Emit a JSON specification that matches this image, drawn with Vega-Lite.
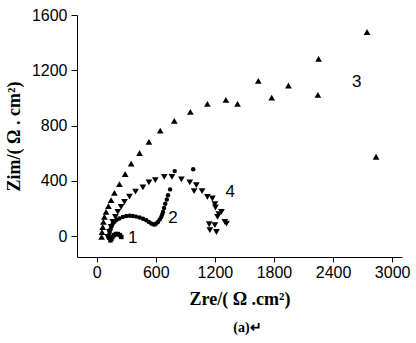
{
  "$schema": "https://vega.github.io/schema/vega-lite/v6.json",
  "width": 325,
  "height": 242,
  "padding": {"left": 5, "top": 7, "right": 5, "bottom": 5},
  "background": "white",
  "title": {"text": "(a)↵", "orient": "bottom", "anchor": "middle", "font": "Liberation Serif", "fontSize": 14, "fontWeight": "bold", "color": "black", "offset": 13, "dx": 8},
  "config": {
    "view": {"stroke": null},
    "axis": {"domainColor": "black", "tickColor": "black", "labelColor": "black", "titleColor": "black", "grid": false, "labelFont": "Liberation Sans", "labelFontSize": 16, "titleFont": "Liberation Serif", "titleFontWeight": "bold", "titleFontSize": 18}
  },
  "datasets": {
    "points": [
      {"s": "1", "x": 140, "y": -30}, {"s": "1", "x": 150, "y": -18}, {"s": "1", "x": 160, "y": -5}, {"s": "1", "x": 175, "y": 8}, {"s": "1", "x": 195, "y": 16}, {"s": "1", "x": 215, "y": 16}, {"s": "1", "x": 235, "y": 8}, {"s": "1", "x": 250, "y": -5},
      {"s": "2", "x": 120, "y": -10}, {"s": "2", "x": 125, "y": 10}, {"s": "2", "x": 132, "y": 30}, {"s": "2", "x": 140, "y": 50}, {"s": "2", "x": 150, "y": 70}, {"s": "2", "x": 163, "y": 90}, {"s": "2", "x": 180, "y": 105}, {"s": "2", "x": 200, "y": 118}, {"s": "2", "x": 230, "y": 128}, {"s": "2", "x": 265, "y": 140}, {"s": "2", "x": 300, "y": 147}, {"s": "2", "x": 335, "y": 148}, {"s": "2", "x": 367, "y": 146}, {"s": "2", "x": 400, "y": 142}, {"s": "2", "x": 435, "y": 136}, {"s": "2", "x": 470, "y": 127}, {"s": "2", "x": 503, "y": 116}, {"s": "2", "x": 530, "y": 104}, {"s": "2", "x": 554, "y": 92}, {"s": "2", "x": 575, "y": 86}, {"s": "2", "x": 590, "y": 85}, {"s": "2", "x": 605, "y": 92}, {"s": "2", "x": 622, "y": 104}, {"s": "2", "x": 640, "y": 122}, {"s": "2", "x": 656, "y": 140}, {"s": "2", "x": 665, "y": 158}, {"s": "2", "x": 673, "y": 176}, {"s": "2", "x": 684, "y": 205}, {"s": "2", "x": 696, "y": 235}, {"s": "2", "x": 712, "y": 266}, {"s": "2", "x": 724, "y": 297}, {"s": "2", "x": 745, "y": 339}, {"s": "2", "x": 792, "y": 471}, {"s": "2", "x": 980, "y": 485},
      {"s": "3", "x": 50, "y": -5}, {"s": "3", "x": 54, "y": 30}, {"s": "3", "x": 61, "y": 67}, {"s": "3", "x": 68, "y": 104}, {"s": "3", "x": 78, "y": 140}, {"s": "3", "x": 95, "y": 176}, {"s": "3", "x": 119, "y": 218}, {"s": "3", "x": 146, "y": 261}, {"s": "3", "x": 180, "y": 314}, {"s": "3", "x": 231, "y": 377}, {"s": "3", "x": 289, "y": 450}, {"s": "3", "x": 350, "y": 525}, {"s": "3", "x": 435, "y": 602}, {"s": "3", "x": 530, "y": 683}, {"s": "3", "x": 645, "y": 764}, {"s": "3", "x": 788, "y": 834}, {"s": "3", "x": 951, "y": 899}, {"s": "3", "x": 1124, "y": 957}, {"s": "3", "x": 1312, "y": 986}, {"s": "3", "x": 1430, "y": 957}, {"s": "3", "x": 1641, "y": 1124}, {"s": "3", "x": 1777, "y": 1003}, {"s": "3", "x": 1947, "y": 1090}, {"s": "3", "x": 2246, "y": 1022}, {"s": "3", "x": 2253, "y": 1283}, {"s": "3", "x": 2745, "y": 1477}, {"s": "3", "x": 2837, "y": 575},
      {"s": "4", "x": 112, "y": -5}, {"s": "4", "x": 129, "y": 31}, {"s": "4", "x": 146, "y": 67}, {"s": "4", "x": 163, "y": 104}, {"s": "4", "x": 190, "y": 140}, {"s": "4", "x": 214, "y": 176}, {"s": "4", "x": 248, "y": 212}, {"s": "4", "x": 282, "y": 249}, {"s": "4", "x": 333, "y": 286}, {"s": "4", "x": 394, "y": 323}, {"s": "4", "x": 469, "y": 353}, {"s": "4", "x": 530, "y": 390}, {"s": "4", "x": 595, "y": 406}, {"s": "4", "x": 686, "y": 430}, {"s": "4", "x": 764, "y": 430}, {"s": "4", "x": 860, "y": 411}, {"s": "4", "x": 945, "y": 389}, {"s": "4", "x": 1012, "y": 370}, {"s": "4", "x": 989, "y": 326}, {"s": "4", "x": 1070, "y": 326}, {"s": "4", "x": 1124, "y": 285}, {"s": "4", "x": 1175, "y": 273}, {"s": "4", "x": 1200, "y": 232}, {"s": "4", "x": 1206, "y": 208}, {"s": "4", "x": 1267, "y": 177}, {"s": "4", "x": 1240, "y": 160}, {"s": "4", "x": 1227, "y": 140}, {"s": "4", "x": 1301, "y": 104}, {"s": "4", "x": 1318, "y": 92}, {"s": "4", "x": 1142, "y": 87}, {"s": "4", "x": 1200, "y": 80}, {"s": "4", "x": 1149, "y": 44}, {"s": "4", "x": 1216, "y": 31}
    ],
    "labels": [
      {"t": "1", "x": 367, "y": -15},
      {"t": "2", "x": 775, "y": 130},
      {"t": "3", "x": 2640, "y": 1117},
      {"t": "4", "x": 1356, "y": 320}
    ]
  },
  "layer": [
    {
      "data": {"name": "points"},
      "transform": [{"filter": "datum.s === '1' || datum.s === '2'"}],
      "mark": {"type": "point", "filled": true, "opacity": 1, "color": "black", "size": 20},
      "encoding": {
        "x": {"field": "x", "type": "quantitative", "scale": {"domain": [-200, 3100], "nice": false, "zero": false},
              "axis": {"values": [0, 300, 600, 900, 1200, 1500, 1800, 2100, 2400, 2700, 3000], "labelExpr": "datum.value % 600 === 0 ? datum.label : ''", "format": "d", "tickSize": {"condition": {"test": "datum.value % 600 === 0", "value": 5}, "value": 3}, "labelPadding": 2, "title": "Zre/( Ω .cm²)", "titlePadding": 10, "labelFlush": false}},
        "y": {"field": "y", "type": "quantitative", "scale": {"domain": [-150, 1600], "nice": false, "zero": false},
              "axis": {"values": [0, 200, 400, 600, 800, 1000, 1200, 1400, 1600], "labelExpr": "datum.value % 400 === 0 ? datum.label : ''", "format": "d", "tickSize": {"condition": {"test": "datum.value % 400 === 0", "value": 6}, "value": 3}, "labelPadding": 4, "title": "Zim/( Ω . cm²)", "titlePadding": 8, "labelFlush": false}},
        "shape": {"field": "s", "type": "nominal", "legend": null, "scale": {"domain": ["1", "2", "3", "4"], "range": ["square", "circle", "triangle-up", "triangle-down"]}}
      }
    },
    {
      "data": {"name": "points"},
      "transform": [{"filter": "datum.s === '3' || datum.s === '4'"}],
      "mark": {"type": "point", "filled": true, "opacity": 1, "color": "black", "size": 45},
      "encoding": {
        "x": {"field": "x", "type": "quantitative"},
        "y": {"field": "y", "type": "quantitative"},
        "shape": {"field": "s", "type": "nominal", "legend": null}
      }
    },
    {
      "data": {"name": "labels"},
      "mark": {"type": "text", "font": "Liberation Sans", "fontSize": 17, "color": "black"},
      "encoding": {
        "x": {"field": "x", "type": "quantitative"},
        "y": {"field": "y", "type": "quantitative"},
        "text": {"field": "t"}
      }
    }
  ]
}
